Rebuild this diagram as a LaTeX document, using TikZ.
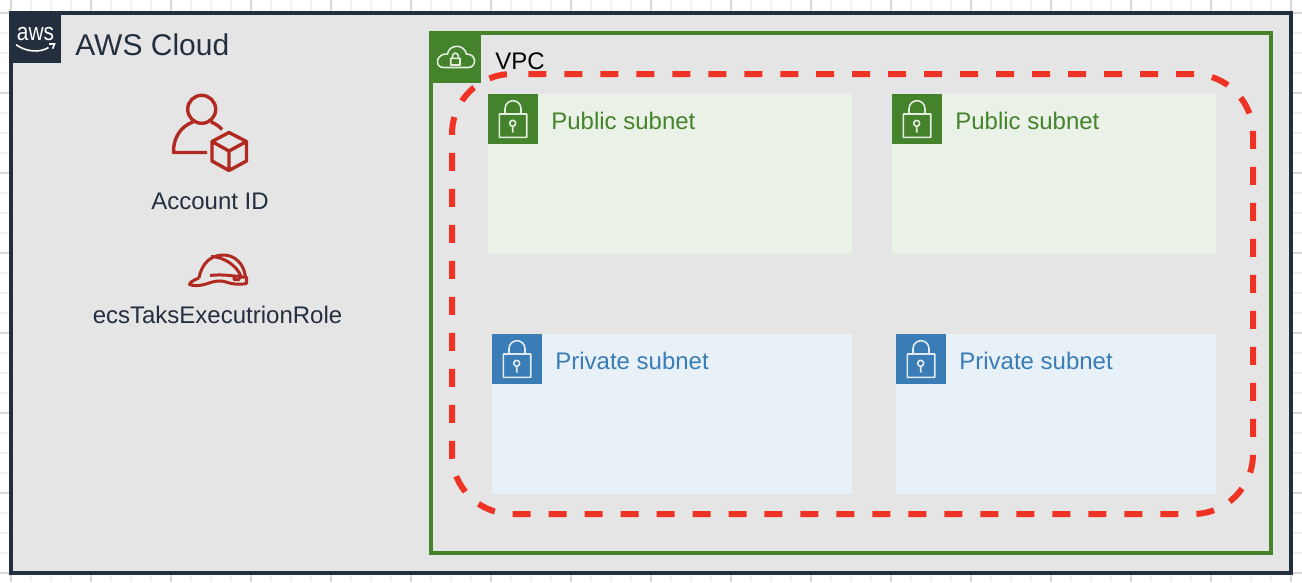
\documentclass[tikz,border=0pt]{standalone}
\usepackage{fontspec}
\setmainfont{Liberation Sans}

\definecolor{awsnavy}{HTML}{232F3E}
\definecolor{cloudgray}{HTML}{E5E5E5}
\definecolor{vpcgreen}{HTML}{44832C}
\definecolor{publicbg}{HTML}{EAF2E7}
\definecolor{privateblue}{HTML}{3A7CB6}
\definecolor{privatebg}{HTML}{E8F1F8}
\definecolor{iconred}{HTML}{B02A22}
\definecolor{dashred}{HTML}{EE3224}
\definecolor{gridminor}{HTML}{F2F2F2}
\definecolor{gridmajor}{HTML}{D8D8D8}

\tikzset{
  px/.style={line width=#1*0.02cm},
  label/.style={inner sep=0pt, anchor=base west, font=\fontsize{13.66}{16}\selectfont},
  caption/.style={inner sep=0pt, anchor=base, text=awsnavy, font=\fontsize{13.66}{16}\selectfont},
  iconline/.style={draw=iconred, px=3.4, line join=round},
  whiteline/.style={draw=white, px=1.6, opacity=0.85, line join=round}
}

% lock in the corner of a subnet, #1 = corner of the square, #2 = colour
\newcommand{\subnetlock}[2]{
  \fill[#2] (#1) rectangle ++(50,50);
  \draw[whiteline, shift={(#1)}]
    (11.3,20) rectangle (38.7,43.3)
    (17,20) -- (17,14.7) arc (180:360:8) -- (33,20)
    (24.7,32.3) -- (24.7,38.7)
    (24.7,29.3) circle (3)
    ;
}

\begin{document}
\begin{tikzpicture}[x=0.02cm, y=-0.02cm]
    \useasboundingbox (0,0) rectangle (1302,582);

    \foreach \i in {0,...,65} {
      \draw[gridminor, px=2] ({\i*20-9},0) -- ({\i*20-9},582);
    }
    \foreach \i in {0,...,29} {
      \draw[gridminor, px=2] (0,{\i*20-7}) -- (1302,{\i*20-7});
    }
    \foreach \i in {0,...,16} {
      \draw[gridmajor, px=1.5] ({\i*80+11},0) -- ({\i*80+11},582);
    }
    \foreach \i in {0,...,7} {
      \draw[gridmajor, px=1.5] (0,{\i*80+13}) -- (1302,{\i*80+13});
    }

    \filldraw[draw=awsnavy, fill=cloudgray, px=4] (11,13) rectangle (1291,573);
    \fill[awsnavy] (9,11) rectangle (61,63);
    \node[inner sep=0pt, anchor=base, text=white, font=\fontsize{14}{16}\selectfont]
      (awslogo) at (35.5,40.5) {\scalebox{0.85}[1]{aws}};
    \draw[white, px=1.6]
      (16,44.7) .. controls (26,52) and (40,53) .. (48.5,47.5)
      (49,44) -- (54.5,44) -- (52.7,48.7)
      ;
    \node[label, text=awsnavy, font=\fontsize{17.07}{20}\selectfont] (cloudlabel) at (75,55) {AWS Cloud};

    % account icon
    \draw[iconline]
      (201.7,109.3) circle (14)
      (193,122) .. controls (181,126) and (173,138) .. (173.5,152.5) -- (207,152.5)
      (211,122) .. controls (215,123.5) and (219,126) .. (222,129.5)
      (229,132.5) -- (246.5,141.5) -- (246.5,161) -- (229,170.5) -- (212,161) -- (212,141.5) -- cycle
      (212,141.5) -- (229,151) -- (246.5,141.5)
      (229,151) -- (229,170.5)
      ;
    \node[caption] (accountlabel) at (210,209) {Account ID};

    % role icon
    \draw[iconline, px=3]
      (199,278) .. controls (202,262) and (212,255) .. (223.5,255)
      .. controls (235,255) and (244,264) .. (245.5,277)
      (211,256.5) .. controls (224,257) and (236,265) .. (241,276)
      (210,275.5) .. controls (218,274.5) and (226,275) .. (234,276)
      (234,276) rectangle (239,279.5)
      (239,277) -- (246.5,277) -- (246.5,283.5)
      .. controls (238,285) and (232,284) .. (226,282)
      .. controls (218,279.5) and (212,282) .. (206,284)
      .. controls (200,286) and (193,286) .. (189.5,284.5)
      .. controls (190,282) and (194,280) .. (199,278)
      ;
    \node[caption] (rolelabel) at (217.5,323) {ecsTaksExecutrionRole};

    \draw[vpcgreen, px=4] (431,33) rectangle (1271,553);
    \fill[vpcgreen] (429,31) rectangle (481,83);
    \draw[whiteline]
      (443.5,67.5) -- (468,67.5)
      .. controls (477,67.5) and (477,54) .. (466.5,54)
      .. controls (464,43.5) and (449,44) .. (447.5,54)
      .. controls (436,53) and (434,67.5) .. (443.5,67.5)
      (450.7,58.3) rectangle (460,65)
      (452.5,58.3) -- (452.5,56) arc (180:360:2.9) -- (458.3,58.3)
      ;
    \node[label] (vpclabel) at (495,69) {VPC};

    \fill[publicbg] (488,94) rectangle (852,254);
    \fill[publicbg] (892,94) rectangle (1216,254);
    \fill[privatebg] (492,334) rectangle (852,494);
    \fill[privatebg] (896,334) rectangle (1216,494);

    \subnetlock{488,94}{vpcgreen}
    \subnetlock{892,94}{vpcgreen}
    \subnetlock{492,334}{privateblue}
    \subnetlock{896,334}{privateblue}

    \node[label, text=vpcgreen] (publica) at (551,129) {Public subnet};
    \node[label, text=vpcgreen] (publicb) at (955,129) {Public subnet};
    \node[label, text=privateblue] (privatea) at (555,369) {Private subnet};
    \node[label, text=privateblue] (privateb) at (959,369) {Private subnet};

    % dashed frame round the subnets
    \draw[dashred, px=6, dash pattern=on 0.36cm off 0.36cm, dash phase=0.394cm]
      (512,74) -- (1193,74) arc (-90:0:60) -- (1253,454) arc (0:90:60)
      -- (512,514) arc (90:180:60) -- (452,134) arc (180:270:60)
      ;
\end{tikzpicture}
\end{document}
